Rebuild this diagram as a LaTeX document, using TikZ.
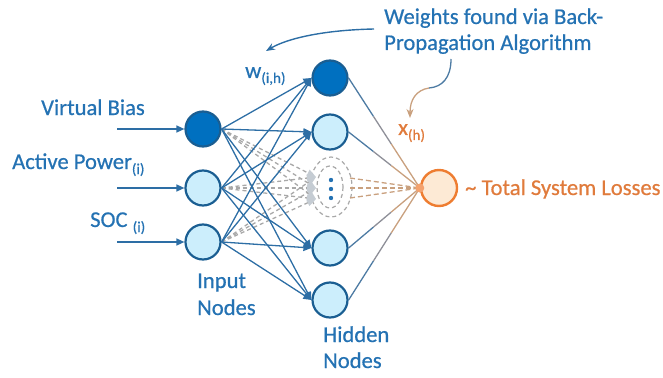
\documentclass[tikz,border=0pt]{standalone}
\usepackage{fontspec}
\setmainfont{Carlito}[FakeBold=0.6]
\usetikzlibrary{arrows.meta,calc}
\definecolor{tblue}{HTML}{2472B3}
\definecolor{lnblue}{HTML}{2D6EA5}
\definecolor{ndark}{HTML}{0070C0}
\definecolor{nedge}{HTML}{1A5E92}
\definecolor{nlight}{HTML}{CCEEFC}
\definecolor{torange}{HTML}{E07B3C}
\definecolor{oedge}{HTML}{EE7D31}
\definecolor{ofill}{HTML}{FDEAD5}
\definecolor{tanc}{HTML}{C9A07E}
\definecolor{midc}{HTML}{8E8F98}
\definecolor{hblue}{HTML}{4D7BA3}
\definecolor{dgray}{HTML}{A8A8A8}
\definecolor{tipgray}{HTML}{C5CCD3}
\definecolor{odot}{HTML}{F4A26E}
\tikzset{
  neuron/.style={circle,draw=nedge,line width=2.2pt,minimum size=35pt,inner sep=0pt},
  darkn/.style={neuron,fill=ndark},
  lightn/.style={neuron,fill=nlight},
  outn/.style={circle,draw=oedge,fill=ofill,line width=2.4pt,minimum size=36pt,inner sep=0pt},
  big/.style={font=\fontsize{22.6}{26}\selectfont,text=tblue,inner sep=0pt,anchor=base west},
  bigo/.style={big,text=torange},
  conn/.style={draw=lnblue,line width=1.3pt,-{Triangle[length=8pt,width=7pt]}},
  inarrow/.style={draw=lnblue,line width=1.4pt,-{Triangle[length=8pt,width=7pt]}},
  gdash/.style={draw=dgray,line width=1.3pt,dash pattern=on 4pt off 3pt,-{Triangle[length=9pt,width=7pt,fill=tipgray,color=tipgray]}},
  odash/.style={draw=tanc,line width=1.3pt,dash pattern=on 5pt off 3pt},
  ringd/.style={draw=dgray,line width=1.2pt,dash pattern=on 4pt off 3pt},
}
\newcommand{\sbs}[1]{\raisebox{-5pt}{\fontsize{15}{15}\selectfont #1}}
\begin{document}
\begin{tikzpicture}[x=1pt,y=-1pt]
\useasboundingbox (0,0) rectangle (663,377);

% nodes
\node[darkn]  (in1) at (203,129) {};
\node[lightn] (in2) at (203,188) {};
\node[lightn] (in3) at (203,242) {};
\node[darkn]  (h1) at (330,78) {};
\node[lightn] (h2) at (330,132) {};
\node[lightn] (h4) at (330,248) {};
\node[lightn] (h5) at (330,300) {};
\node[outn]   (out) at (439,188) {};

% dashed placeholder hidden node
\draw[ringd] (331,187) ellipse [x radius=21, y radius=30];
\draw[ringd] (330,187) ellipse [x radius=13, y radius=21];
\fill[tblue] (331,180) circle (2.2) (331,189) circle (2.2) (331,198) circle (2.2);

\coordinate (g1) at (316,177);
\coordinate (g2) at (316,188);
\coordinate (g3) at (316,199);
\coordinate (o1) at (350,178);
\coordinate (o2) at (350,188);
\coordinate (o3) at (350,198);

% gray dashed input -> placeholder
\foreach \i in {in1,in2,in3}{
  \foreach \g in {g1,g2,g3}{
    \draw[gdash] (\i.east) -- (\g);
  }
}

% input arrows
\coordinate (a1) at (117,129);
\coordinate (a2) at (117,188);
\coordinate (a3) at (117,242);
\draw[inarrow] (a1) -- (in1.west);
\draw[inarrow] (a2) -- (in2.west);
\draw[inarrow] (a3) -- (in3.west);

% input -> hidden
\foreach \i in {in1,in2,in3}{
  \foreach \h in {h1,h2,h4,h5}{
    \draw[conn] (\i.east) -- (\h.west);
  }
}

% hidden -> output (colour shifting)
\foreach \h in {h1,h2,h4,h5}{
  \draw[hblue,line width=1.3pt] (\h.east) -- ($(\h.east)!0.35!(out.west)$);
  \draw[midc,line width=1.3pt] ($(\h.east)!0.35!(out.west)$) -- ($(\h.east)!0.6!(out.west)$);
  \draw[tanc,line width=1.3pt] ($(\h.east)!0.6!(out.west)$) -- (out.west);
}
\foreach \o in {o1,o2,o3}{
  \draw[odash] (\o) -- (out.west);
}
\fill[odot] (out.west) circle (4.5);

% labels
\node[big] (lvb) at (41,115) {Virtual Bias};
\node[big] (lap) at (12,169) {Active Power\sbs{(i)}};
\node[big] (lsoc) at (90,227) {SOC \sbs{(i)}};
\node[big] (lw) at (245,78) {w\sbs{(i,h)}};
\node[bigo] (lx) at (398,135) {x\sbs{(h)}};
\node[big] (t1) at (384,24) {Weights found via Back-};
\node[big] (t2) at (384,50) {Propagation Algorithm};
\node[bigo] (lloss) at (465,195) {\textasciitilde\ Total System Losses};
\node[big] (li1) at (197,288) {Input};
\node[big] (li2) at (197,315) {Nodes};
\node[big] (lh1) at (323,342) {Hidden};
\node[big] (lh2) at (323,368) {Nodes};

% annotation arrows
\coordinate (ta) at (374,29);
\coordinate (tb) at (266,51);
\draw[lnblue,line width=1.4pt,-{Stealth[length=9pt,width=7pt]}] (ta) .. controls (325,30) and (288,38) .. (tb);
\coordinate (xa) at (451,59);
\coordinate (xm) at (429,88);
\coordinate (xb) at (410,118);
\draw[hblue,line width=1.3pt] (xa) .. controls (451,78) and (442,87) .. (xm);
\draw[tanc,line width=1.3pt,-{Stealth[length=9pt,width=7pt,fill=odot]}] (xm) .. controls (416,90) and (410,100) .. (xb);
\end{tikzpicture}
\end{document}
